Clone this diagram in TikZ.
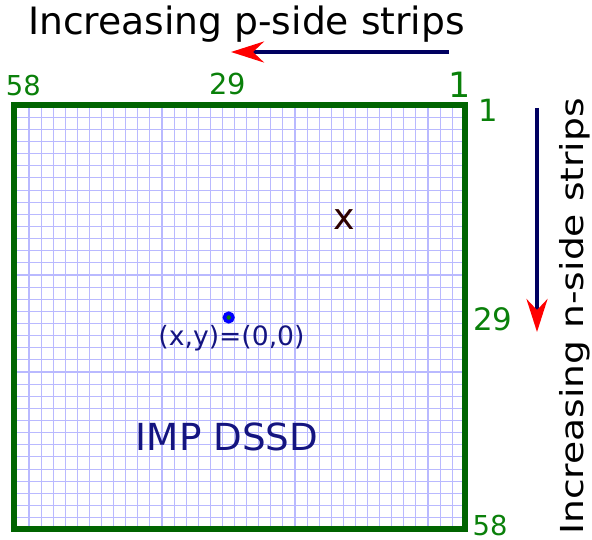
\documentclass[tikz,border=0pt]{standalone}
\usepackage{fontspec}
\setmainfont{DejaVu Sans}
\usetikzlibrary{arrows.meta}
\definecolor{framegreen}{RGB}{0,100,0}
\definecolor{labelgreen}{RGB}{10,128,10}
\definecolor{gridblue}{RGB}{185,185,255}
\definecolor{textnavy}{RGB}{20,20,128}
\definecolor{arrownavy}{RGB}{0,0,96}
\definecolor{markbrown}{RGB}{45,0,0}

\begin{document}
\begin{tikzpicture}[x=1bp,y=-1bp,
  stripnum/.style={text=labelgreen,inner sep=0pt,anchor=base,font=\fontsize{#1}{#1}\selectfont},
  bigtext/.style={font=\fontsize{37.8}{40}\selectfont,inner sep=0pt,anchor=base},
  gridline/.style={draw=gridblue,line width=1.1bp},
  strips/.style={draw=arrownavy,line width=3.5bp,-{Stealth[length=33bp,width=21bp,inset=11bp,color=red,fill=red]}}]
  \useasboundingbox (0,0) rectangle (592,540);
  \def\cellw{12.09}
  \def\cellh{12.13}

  % pixel grid
  \begin{scope}
    \clip (14,105.5) rectangle (465.3,529);
    \foreach \i in {0,...,35}
      \draw[gridline] ({29+\cellw*\i},100) -- ({29+\cellw*\i},540);
    \foreach \k in {0,...,33}
      \draw[gridline] (10,{117.3+\cellh*\k}) -- (480,{117.3+\cellh*\k});
  \end{scope}
  \draw[framegreen,line width=6bp] (14,105.5) rectangle (465.3,529);

  % strip numbers
  \node[stripnum=27.5] (pfar) at (23.3,96) {58};
  \node[stripnum=29] (pmid) at (227.5,94.3) {29};
  \node[stripnum=35] (pnear) at (460,98) {1};
  \node[stripnum=30.7] (nnear) at (488.7,121.7) {1};
  \node[stripnum=31] (nmid) at (492.8,330) {29};
  \node[stripnum=27.5] (nfar) at (490,535.5) {58};

  % directions
  \node[bigtext] (ptitle) at (246.5,35) {Increasing p-side strips};
  \node[bigtext,rotate=90,yscale=0.84] (ntitle) at (583.7,316.5) {Increasing n-side strips};
  \coordinate (pfrom) at (449,52);
  \coordinate (pto) at (231,52);
  \coordinate (nfrom) at (537,108);
  \coordinate (nto) at (537,332);
  \draw[strips] (pfrom) -- (pto);
  \draw[strips] (nfrom) -- (nto);

  % detector
  \node[circle,draw=blue,fill=labelgreen,line width=3.5bp,minimum size=8.5bp,inner sep=0pt] (origin) at (228.7,317.5) {};
  \node[anchor=base,inner sep=0pt,text=textnavy,font=\fontsize{26.7}{28}\selectfont] (originlabel) at (231.5,345) {(x,y)=(0,0)};
  \node[inner sep=0pt,text=markbrown,font=\fontsize{36.5}{38}\selectfont] (hitmark) at (344.7,219.3) {x};
  \node[bigtext,text=textnavy,font=\fontsize{37.4}{40}\selectfont] (dssd) at (227,450) {IMP DSSD};
\end{tikzpicture}
\end{document}
